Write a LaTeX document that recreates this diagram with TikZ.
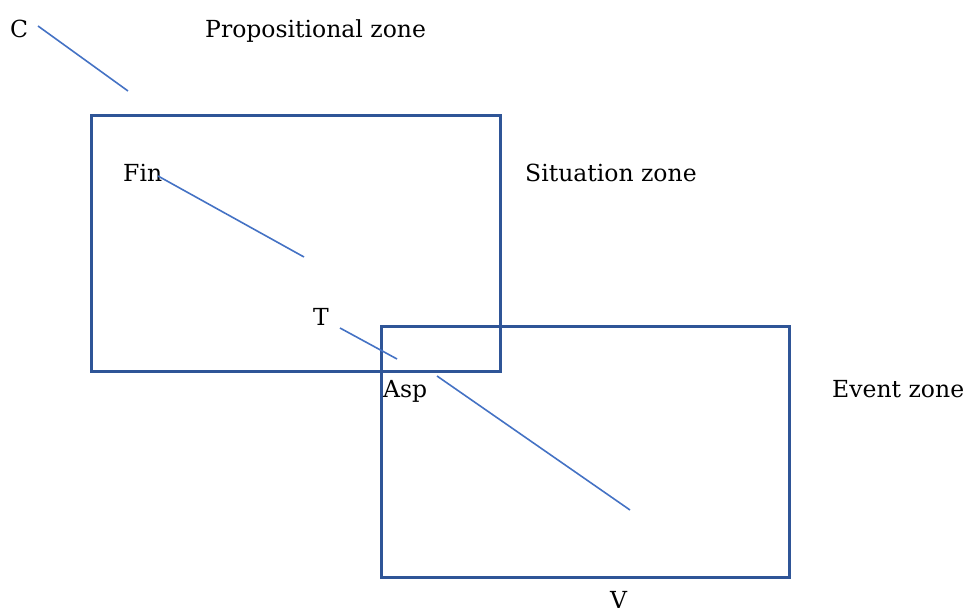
\documentclass[tikz,border=0pt]{standalone}
\usepackage{fontspec}
\setmainfont{DejaVu Serif}
\definecolor{boxblue}{HTML}{2F5597}
\definecolor{lineblue}{HTML}{4472C4}
\begin{document}
\begin{tikzpicture}[x=1pt,y=-1pt,
  lbl/.style={anchor=base west,inner sep=0pt,font=\fontsize{23.5}{28}\selectfont},
  zonebox/.style={draw=boxblue,line width=3pt},
  link/.style={draw=lineblue,line width=1.6pt}]
\useasboundingbox (0,0) rectangle (972,612);
% boxes
\draw[zonebox] (91,116) rectangle (500,371);
\draw[zonebox] (381,327) rectangle (789,577);
% labels
\node[lbl] (C) at (10,38) {C};
\node[lbl] (prop) at (205,38) {Propositional zone};
\node[lbl] (sit) at (525,182) {Situation zone};
\node[lbl] (fin) at (123,182) {Fin};
\node[lbl] (T) at (313,326) {T};
\node[lbl] (asp) at (383,397) {Asp};
\node[lbl] (event) at (832,397) {Event zone};
\node[lbl] (V) at (610,608) {V};
% line ends
\coordinate (c1) at (38,26);
\coordinate (c2) at (128,91);
\coordinate (f1) at (158,176);
\coordinate (f2) at (304,257);
\coordinate (t1) at (340,328);
\coordinate (t2) at (397,359);
\coordinate (a1) at (437,376);
\coordinate (a2) at (630,510);
\draw[link] (c1) -- (c2);
\draw[link] (f1) -- (f2);
\draw[link] (t1) -- (t2);
\draw[link] (a1) -- (a2);
\end{tikzpicture}
\end{document}
